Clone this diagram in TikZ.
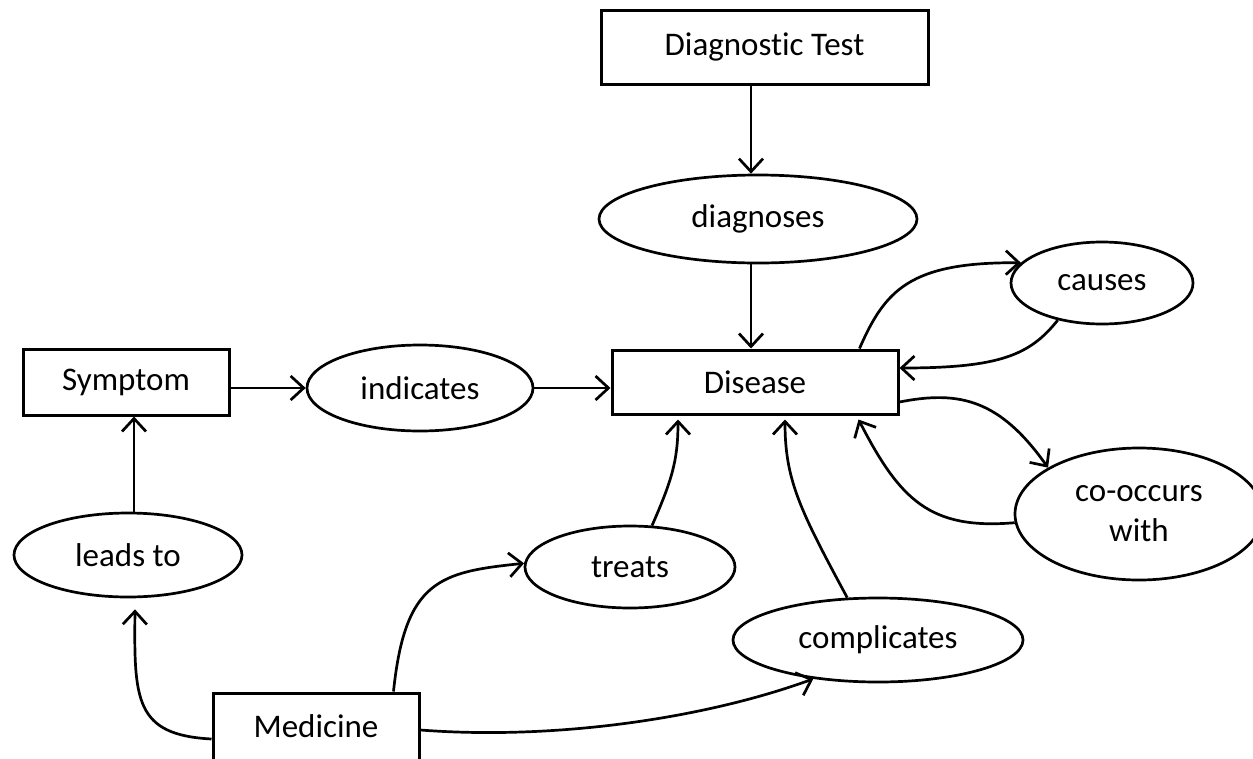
\documentclass[tikz,border=0pt]{standalone}
\usepackage{fontspec}
\setmainfont{Carlito}[Ligatures=NoCommon]
\usetikzlibrary{shapes.geometric,arrows.meta}
\begin{document}
\begin{tikzpicture}[x=1pt,y=-1pt,
  box/.style={draw,line width=3pt,rectangle,inner sep=0pt,font=\fontsize{33}{40}\selectfont},
  oval/.style={draw,line width=2.7pt,ellipse,inner sep=0pt,align=center,font=\fontsize{33}{40}\selectfont},
  arr/.style={line width=2.7pt,-{Straight Barb[length=13pt,width=24pt]}},
]
\useasboundingbox (0,0) rectangle (1253,758);
\clip (0,0) rectangle (1253,758);
\node[box,minimum width=327pt,minimum height=74pt] (dt) at (764.5,47) {Diagnostic Test};
\node[oval,minimum width=318pt,minimum height=88pt] (diag) at (758,219) {diagnoses};
\node[box,minimum width=286pt,minimum height=64pt] (dis) at (755,382) {Disease};
\node[box,minimum width=206pt,minimum height=66pt] (sym) at (126,382) {Symptom};
\node[oval,minimum width=226pt,minimum height=86pt] (ind) at (420,388) {indicates};
\node[oval,minimum width=182pt,minimum height=82pt] (cau) at (1102,283) {causes};
\node[oval,minimum width=248pt,minimum height=132pt] (coo) at (1139,514) {co-occurs\\with};
\node[oval,minimum width=228pt,minimum height=84pt] (lea) at (128,555) {leads to};
\node[oval,minimum width=210pt,minimum height=82pt] (tre) at (630,567) {treats};
\node[oval,minimum width=290pt,minimum height=84pt] (com) at (878,640) {complicates};
\node[box,minimum width=206pt,minimum height=67pt] (med) at (316,726.5) {Medicine};
\coordinate (c1) at (751,0);
\coordinate (c2) at (134,0);
% straight connectors
\draw[arr] (dt.south -| c1) -- (diag.north -| c1);
\draw[arr] (diag.south -| c1) -- (dis.north -| c1);
\draw[arr] (sym.east |- ind.west) -- (ind.west);
\draw[arr] (ind.east) -- (dis.west |- ind.east);
\draw[arr] (lea.north -| c2) -- (sym.south -| c2);
% curved connectors
\draw[arr] ([yshift=-12.5pt]med.west) .. controls (135,735) and (134,700) .. ([shift={(7,11)}]lea.south);
\draw[arr] ([xshift=-27pt]med.north east) .. controls (405,580) and (440,572) .. (tre.178);
\draw[arr] ([yshift=-3.5pt]med.east) .. controls (550,740) and (700,720) .. (com.211);
\draw[arr] (tre.62) .. controls (672,480) and (678,460) .. ([shift={(-77,4)}]dis.south);
\draw[arr] (com.126) .. controls (800,510) and (785,480) .. ([shift={(30,4)}]dis.south);
\draw[arr] ([xshift=-40pt]dis.north east) .. controls (885,290) and (910,262) .. (cau.166);
\draw[arr] (cau.220) .. controls (1030,355) and (1000,368) .. ([yshift=14pt]dis.east);
\draw[arr] ([yshift=-20pt]dis.east) .. controls (960,390) and (1000,400) .. (coo.153);
\draw[arr] (coo.184) .. controls (930,530) and (900,500) .. ([shift={(-41,4)}]dis.south east);
\end{tikzpicture}
\end{document}
